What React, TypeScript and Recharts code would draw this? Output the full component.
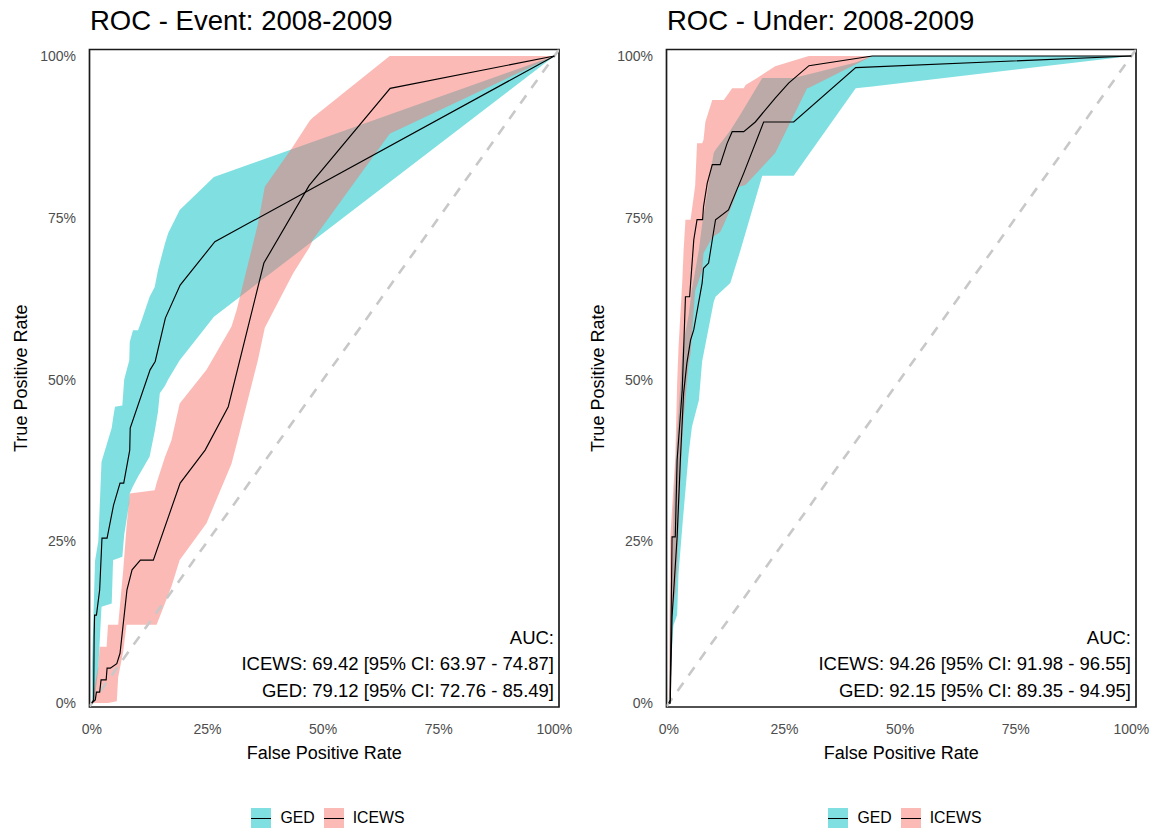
import React from 'react';
import { ComposedChart, Area, Line, XAxis, YAxis, ReferenceLine, ReferenceArea, Legend } from 'recharts';

const FONT = '"Liberation Sans", Arial, Helvetica, sans-serif';
const GED_COLOR = '#00BFC4';
const ICEWS_COLOR = '#F8766D';
const seriesNames = ['GED', 'ICEWS'];
const seriesKeyColors = ['rgba(0,191,196,0.5)', 'rgba(248,118,109,0.5)'];
const tickValues = [0, 0.25, 0.5, 0.75, 1];
const tickLabels = ['0%', '25%', '50%', '75%', '100%'];
const panelTitles = ['ROC - Event: 2008-2009', 'ROC - Under: 2008-2009'];
const xAxisTitle = 'False Positive Rate';
const yAxisTitle = 'True Positive Rate';
const eventAucLines = ['AUC:', 'ICEWS: 69.42 [95% CI: 63.97 - 74.87]', 'GED: 79.12 [95% CI: 72.76 - 85.49]'];
const underAucLines = ['AUC:', 'ICEWS: 94.26 [95% CI: 91.98 - 96.55]', 'GED: 92.15 [95% CI: 89.35 - 94.95]'];

// ---- Event panel ----
const eventGedX = [0, 0.004, 0.005, 0.006, 0.010, 0.017, 0.022, 0.033, 0.047, 0.061, 0.069, 0.082, 0.083, 0.126, 0.137, 0.159, 0.191, 0.266, 1];
const eventGedY = [0, 0.005, 0.102, 0.136, 0.136, 0.175, 0.255, 0.255, 0.306, 0.340, 0.340, 0.391, 0.425, 0.515, 0.528, 0.595, 0.646, 0.713, 1];
const eventIcewsX = [0, 0.0075, 0.010, 0.017, 0.020, 0.031, 0.033, 0.040, 0.054, 0.061, 0.076, 0.087, 0.105, 0.133, 0.191, 0.245, 0.295, 0.372, 0.470, 0.645, 1];
const eventIcewsY = [0, 0.005, 0.017, 0.017, 0.036, 0.036, 0.054, 0.054, 0.061, 0.077, 0.175, 0.206, 0.221, 0.221, 0.340, 0.391, 0.458, 0.680, 0.800, 0.950, 1];

const eventGedBandX = [0, 0.007, 0.014, 0.021, 0.043, 0.046, 0.050, 0.066, 0.070, 0.081, 0.082, 0.089, 0.100, 0.108, 0.125, 0.136, 0.143, 0.147, 0.158, 0.165, 0.190, 0.264, 1];
const eventGedBandLo = [0, 0.010, 0.054, 0.149, 0.154, 0.221, 0.222, 0.226, 0.260, 0.310, 0.324, 0.335, 0.350, 0.360, 0.381, 0.420, 0.450, 0.479, 0.490, 0.500, 0.530, 0.597, 1];
const eventGedBandHi = [0.05, 0.220, 0.250, 0.373, 0.425, 0.440, 0.458, 0.460, 0.500, 0.530, 0.558, 0.576, 0.576, 0.592, 0.628, 0.643, 0.669, 0.680, 0.710, 0.726, 0.762, 0.813, 1];

const eventIcewsBandX = [0, 0.007, 0.014, 0.017, 0.032, 0.035, 0.054, 0.057, 0.068, 0.075, 0.082, 0.136, 0.140, 0.158, 0.172, 0.190, 0.248, 0.302, 0.313, 0.359, 0.374, 0.435, 0.471, 0.478, 0.644, 1];
const eventIcewsBandLo = [0, 0, 0, 0, 0, 0, 0.003, 0.040, 0.080, 0.121, 0.121, 0.121, 0.121, 0.154, 0.180, 0.221, 0.278, 0.370, 0.400, 0.530, 0.580, 0.664, 0.705, 0.716, 0.880, 1];
const eventIcewsBandHi = [0, 0.030, 0.056, 0.087, 0.087, 0.121, 0.121, 0.121, 0.206, 0.272, 0.324, 0.329, 0.340, 0.380, 0.406, 0.463, 0.515, 0.582, 0.607, 0.740, 0.798, 0.860, 0.900, 0.905, 1, 1];

// ---- Under panel ----
const underGedX = [0, 0.003, 0.007, 0.018, 0.025, 0.032, 0.039, 0.047, 0.054, 0.072, 0.075, 0.086, 0.094, 0.101, 0.129, 0.162, 0.205, 0.270, 0.404, 1];
const underGedY = [0, 0, 0.133, 0.257, 0.376, 0.479, 0.525, 0.561, 0.577, 0.649, 0.672, 0.680, 0.716, 0.747, 0.762, 0.819, 0.898, 0.898, 0.982, 1];
const underIcewsX = [0, 0.003, 0.007, 0.014, 0.018, 0.029, 0.036, 0.045, 0.054, 0.061, 0.073, 0.075, 0.083, 0.094, 0.111, 0.126, 0.137, 0.162, 0.187, 0.230, 0.259, 0.303, 0.440, 1];
const underIcewsY = [0, 0.005, 0.257, 0.257, 0.376, 0.484, 0.628, 0.628, 0.716, 0.747, 0.747, 0.767, 0.803, 0.832, 0.832, 0.865, 0.883, 0.883, 0.898, 0.935, 0.958, 0.985, 1, 1];

const underGedBandX = [0, 0.010, 0.018, 0.021, 0.030, 0.043, 0.050, 0.065, 0.072, 0.097, 0.101, 0.133, 0.155, 0.202, 0.270, 0.404, 0.440, 1];
const underGedBandLo = [0, 0.120, 0.136, 0.200, 0.280, 0.386, 0.427, 0.468, 0.528, 0.620, 0.628, 0.649, 0.700, 0.815, 0.815, 0.950, 0.953, 1];
const underGedBandHi = [0, 0.300, 0.420, 0.450, 0.550, 0.600, 0.640, 0.700, 0.740, 0.850, 0.855, 0.885, 0.910, 0.966, 0.966, 0.990, 1, 1];

const underIcewsBandX = [0, 0.003, 0.007, 0.014, 0.018, 0.021, 0.025, 0.029, 0.032, 0.036, 0.043, 0.047, 0.057, 0.061, 0.072, 0.075, 0.079, 0.094, 0.111, 0.119, 0.137, 0.151, 0.162, 0.166, 0.191, 0.230, 0.299, 0.303, 0.440, 1];
const underIcewsBandLo = [0, 0.020, 0.139, 0.170, 0.210, 0.262, 0.345, 0.406, 0.440, 0.470, 0.525, 0.540, 0.638, 0.645, 0.669, 0.695, 0.700, 0.720, 0.728, 0.740, 0.770, 0.798, 0.800, 0.801, 0.820, 0.850, 0.950, 0.951, 1, 1];
const underIcewsBandHi = [0, 0.252, 0.300, 0.380, 0.494, 0.550, 0.600, 0.650, 0.700, 0.747, 0.747, 0.747, 0.800, 0.865, 0.865, 0.870, 0.898, 0.932, 0.932, 0.932, 0.950, 0.950, 0.950, 0.955, 0.966, 0.984, 0.999, 1, 1, 1];

const X_DOMAIN: [number, number] = [-0.005, 1.01];
const Y_DOMAIN: [number, number] = [-0.006, 1.01];

const toLine = (xs: number[], ys: number[]) => xs.map((x, i) => ({ x, y: ys[i] }));
const toBand = (xs: number[], lo: number[], hi: number[]) => xs.map((x, i) => ({ x, range: [lo[i], hi[i]] }));
const pct = (v: number) => tickLabels[tickValues.indexOf(v)] ?? `${Math.round(v * 100)}%`;

const LegendContent = () => (
  <div
    style={{
      display: 'flex',
      justifyContent: 'center',
      alignItems: 'center',
      width: 578,
      paddingLeft: 78,
      boxSizing: 'border-box',
      height: 24,
      fontFamily: FONT,
      fontSize: 15.8,
      color: '#000',
    }}
  >
    {seriesNames.map((name, i) => (
      <div key={name} style={{ display: 'flex', alignItems: 'center', marginLeft: i ? 9 : 0 }}>
        <div style={{ width: 20, height: 20, background: seriesKeyColors[i], position: 'relative' }}>
          <div style={{ position: 'absolute', left: 0, right: 0, top: 9.5, height: 1.1, background: '#000' }} />
        </div>
        <span style={{ marginLeft: 9 }}>{name}</span>
      </div>
    ))}
  </div>
);

type PanelProps = {
  gedLine: { x: number; y: number }[];
  icewsLine: { x: number; y: number }[];
  gedBand: { x: number; range: number[] }[];
  icewsBand: { x: number; range: number[] }[];
};

const tickStyle = { fill: '#4D4D4D', fontSize: 14, fontFamily: FONT };

function Panel({ gedLine, icewsLine, gedBand, icewsBand }: PanelProps) {
  return (
    <ComposedChart width={578} height={832} margin={{ top: 49.5, right: 19, bottom: 2, left: 0 }}>
      <XAxis
        type="number"
        dataKey="x"
        domain={X_DOMAIN}
        ticks={tickValues}
        tickFormatter={pct}
        axisLine={false}
        tickLine={false}
        tickMargin={11}
        height={99}
        allowDataOverflow
        tick={tickStyle}
      />
      <YAxis
        type="number"
        domain={Y_DOMAIN}
        ticks={tickValues}
        tickFormatter={pct}
        axisLine={false}
        tickLine={false}
        tickMargin={7.5}
        width={89.5}
        allowDataOverflow
        tick={tickStyle}
      />
      <Area
        data={gedBand}
        dataKey="range"
        type="linear"
        stroke="none"
        fill={GED_COLOR}
        fillOpacity={0.5}
        isAnimationActive={false}
        activeDot={false}
        legendType="none"
      />
      <Area
        data={icewsBand}
        dataKey="range"
        type="linear"
        stroke="none"
        fill={ICEWS_COLOR}
        fillOpacity={0.5}
        isAnimationActive={false}
        activeDot={false}
        legendType="none"
      />
      <ReferenceLine
        segment={[{ x: X_DOMAIN[0], y: X_DOMAIN[0] }, { x: 1.01, y: 1.01 }]}
        stroke="#C8C8C8"
        strokeWidth={2.6}
        strokeDasharray="10 9"
        ifOverflow="hidden"
      />
      <Line
        data={gedLine}
        dataKey="y"
        type="linear"
        stroke="#000"
        strokeWidth={1.15}
        dot={false}
        activeDot={false}
        isAnimationActive={false}
      />
      <Line
        data={icewsLine}
        dataKey="y"
        type="linear"
        stroke="#000"
        strokeWidth={1.15}
        dot={false}
        activeDot={false}
        isAnimationActive={false}
      />
      <ReferenceArea
        x1={X_DOMAIN[0]}
        x2={X_DOMAIN[1]}
        y1={Y_DOMAIN[0]}
        y2={Y_DOMAIN[1]}
        fill="none"
        fillOpacity={0}
        stroke="#1a1a1a"
        strokeWidth={1.7}
        ifOverflow="visible"
      />
      <Legend
        verticalAlign="bottom"
        height={24}
        content={LegendContent}
        wrapperStyle={{ left: 0, width: 578, bottom: 2, height: 24 }}
      />
    </ComposedChart>
  );
}

const eventPanel = {
  gedLine: toLine(eventGedX, eventGedY),
  icewsLine: toLine(eventIcewsX, eventIcewsY),
  gedBand: toBand(eventGedBandX, eventGedBandLo, eventGedBandHi),
  icewsBand: toBand(eventIcewsBandX, eventIcewsBandLo, eventIcewsBandHi),
};
const underPanel = {
  gedLine: toLine(underGedX, underGedY),
  icewsLine: toLine(underIcewsX, underIcewsY),
  gedBand: toBand(underGedBandX, underGedBandLo, underGedBandHi),
  icewsBand: toBand(underIcewsBandX, underIcewsBandLo, underIcewsBandHi),
};

const PANEL_OFFSETS = [0, 577];

function TextOverlay() {
  return (
    <svg width={1156} height={832} style={{ position: 'absolute', left: 0, top: 0, pointerEvents: 'none' }} fontFamily={FONT}>
      {PANEL_OFFSETS.map((off, p) => {
        const auc = p === 0 ? eventAucLines : underAucLines;
        const plotCenterX = off + 89.5 + 469.5 / 2;
        return (
          <g key={p}>
            <text x={off + 90} y={30} fontSize={27.5} fill="#000">
              {panelTitles[p]}
            </text>
            <text x={plotCenterX} y={758.5} fontSize={18} fill="#000" textAnchor="middle">
              {xAxisTitle}
            </text>
            <text
              x={0}
              y={0}
              fontSize={18}
              fill="#000"
              textAnchor="middle"
              transform={`translate(${off + 26.5}, 378.25) rotate(-90)`}
            >
              {yAxisTitle}
            </text>
            {auc.map((line, i) => (
              <text key={i} x={off + 554} y={643.5 + i * 26.7} fontSize={18.5} fill="#000" textAnchor="end">
                {line}
              </text>
            ))}
          </g>
        );
      })}
    </svg>
  );
}

export default function App() {
  return (
    <div style={{ position: 'absolute', left: 0, top: 0, width: 1156, height: 832, background: '#fff', overflow: 'hidden' }}>
      <div style={{ position: 'absolute', left: PANEL_OFFSETS[0], top: 0 }}>
        <Panel {...eventPanel} />
      </div>
      <div style={{ position: 'absolute', left: PANEL_OFFSETS[1], top: 0 }}>
        <Panel {...underPanel} />
      </div>
      <TextOverlay />
    </div>
  );
}
